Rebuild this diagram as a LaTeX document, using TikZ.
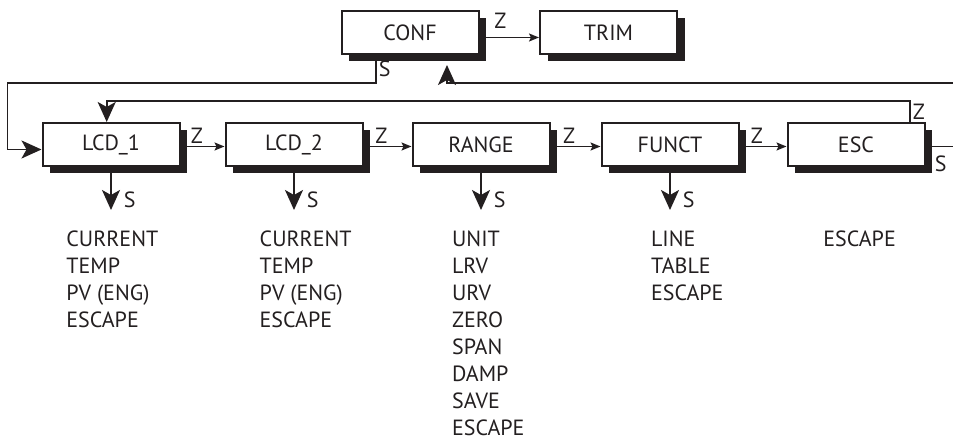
\documentclass[tikz,border=0pt]{standalone}
\usepackage{fontspec}
\setmainfont{PT Sans}
\usepackage{tikz}
\usetikzlibrary{arrows.meta,shadows}

\definecolor{ink}{RGB}{35,31,32}

\tikzset{
  menubox/.style={draw, line width=1pt, fill=white, inner sep=0pt,
    minimum width=68.5pt, minimum height=21.5pt,
    drop shadow={shadow xshift=3.8pt, shadow yshift=-3.4pt, fill=ink, opacity=1}},
  conn/.style={line width=0.9pt},
  zarrow/.style={conn, -{Stealth[length=5pt,width=4pt,inset=1pt]}},
  bigarrow/.style={conn, -{Stealth[length=10pt,width=9pt,inset=2.5pt]}},
  key/.style={inner sep=1pt},
  itemlist/.style={anchor=north west, align=left, inner sep=0pt}
}

\begin{document}
\begin{tikzpicture}[x=0.5pt, y=0.5pt, color=ink, font=\fontsize{11pt}{13.5pt}\selectfont]
    \useasboundingbox (0,0) rectangle (953,438);

    % menu boxes
    \node[menubox] (conf) at (410,405.5) {CONF};
    \node[menubox] (trim) at (608.5,405.5) {TRIM};
    \node[menubox] (lcdA) at (111,293.5) {LCD\_1};
    \node[menubox] (lcdB) at (294,293.5) {LCD\_2};
    \node[menubox] (range) at (481,293.5) {RANGE};
    \node[menubox] (funct) at (670,293.5) {FUNCT};
    \node[menubox] (esc) at (856,293.5) {ESC};

    % Z steps
    \draw[zarrow] ([yshift=-2.5pt]conf.east) -- node[key, above=3pt, pos=0.35] {Z} ([yshift=-2.5pt]trim.west);
    \foreach \a/\b in {lcdA/lcdB, lcdB/range, range/funct, funct/esc}
        \draw[zarrow] ([yshift=-1pt]\a.east) -- node[key, above, pos=0.37] {Z} ([yshift=-1pt]\b.west);

    % S steps down into the sub menus
    \foreach \n in {lcdA, lcdB, range, funct}
        \draw[bigarrow] (\n.south) -- ++(0,-43) node[key, right=5pt, pos=0.77] {S};

    % loops
    \coordinate (sdrop) at (376,355);
    \coordinate (sleft) at (7.5,355);
    \draw[bigarrow] (sdrop |- conf.south) -- node[key, right] {S} (sdrop) -- (sleft) |- ([yshift=-2.5pt]lcdA.west);

    \coordinate (zret) at (910,337.3);
    \coordinate (zin) at (106.7,337.3);
    \draw[bigarrow] (esc.north -| zret) -- node[key, right] {Z} (zret) -- (zin) -- (zin |- lcdA.north);

    \coordinate (cin) at (953,355);
    \coordinate (cret) at (447,355);
    \draw[bigarrow, shorten >=5pt] (cin) -- (cret) -- (cret |- conf.south);

    \coordinate (escout) at (953,291.5);
    \draw[conn] ([yshift=-1pt]esc.east) -- node[key, below=3pt, pos=0.55] {S} (escout);

    % sub menu items
    \node[itemlist] (lcdAlist) at (66,208) {CURRENT\\TEMP\\PV (ENG)\\ESCAPE};
    \node[itemlist] (lcdBlist) at (259.3,208) {CURRENT\\TEMP\\PV (ENG)\\ESCAPE};
    \node[itemlist] (rangelist) at (451.7,208) {UNIT\\LRV\\URV\\ZERO\\SPAN\\DAMP\\SAVE\\ESCAPE};
    \node[itemlist] (functlist) at (650.7,208) {LINE\\TABLE\\ESCAPE};
    \node[itemlist] (esclist) at (823,208) {ESCAPE};
\end{tikzpicture}
\end{document}
